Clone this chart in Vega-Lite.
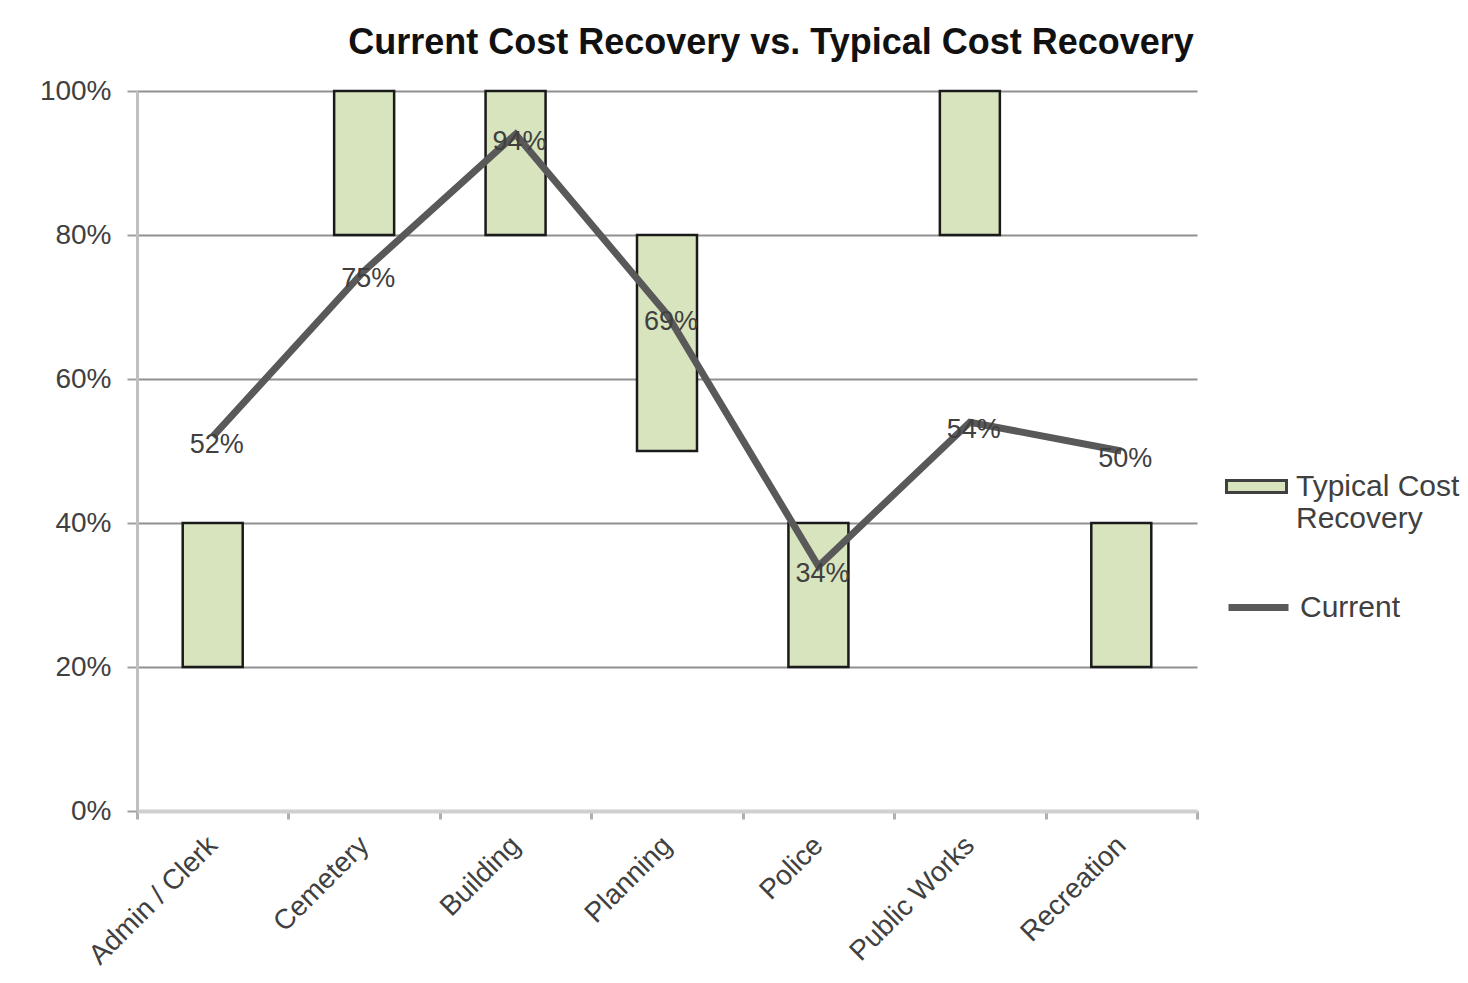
{
  "$schema": "https://vega.github.io/schema/vega-lite/v6.json",
  "autosize": "none",
  "width": 1060,
  "height": 720,
  "padding": {"left": 137, "top": 91, "right": 271, "bottom": 172},
  "background": "white",
  "title": {
    "text": "Current Cost Recovery vs. Typical Cost Recovery",
    "font": "Liberation Sans",
    "fontSize": 36,
    "fontWeight": "bold",
    "color": "#111111",
    "anchor": "middle",
    "dx": 104,
    "offset": 15
  },
  "data": {
    "values": [
      {"dept": "Admin / Clerk", "low": 0.2, "high": 0.4, "current": 0.52},
      {"dept": "Cemetery", "low": 0.8, "high": 1.0, "current": 0.75},
      {"dept": "Building", "low": 0.8, "high": 1.0, "current": 0.94},
      {"dept": "Planning", "low": 0.5, "high": 0.8, "current": 0.69},
      {"dept": "Police", "low": 0.2, "high": 0.4, "current": 0.34},
      {"dept": "Public Works", "low": 0.8, "high": 1.0, "current": 0.54},
      {"dept": "Recreation", "low": 0.2, "high": 0.4, "current": 0.5}
    ]
  },
  "encoding": {
    "x": {
      "field": "dept",
      "type": "nominal",
      "sort": null,
      "scale": {"paddingInner": 0, "paddingOuter": 0},
      "axis": {
        "title": null,
        "labelAngle": -45,
        "labelAlign": "right",
        "labelBaseline": "middle",
        "labelFont": "Liberation Sans",
        "labelFontSize": 28,
        "labelColor": "#404040",
        "labelPadding": 22,
        "tickBand": "extent",
        "tickColor": "#b0b0b0",
        "tickWidth": 3,
        "tickSize": 8,
        "domainColor": "#d0d0d0",
        "domainWidth": 4,
        "grid": false
      }
    }
  },
  "layer": [
    {
      "mark": {"type": "bar", "size": 60, "stroke": "#1a1a1a", "strokeWidth": 2.5},
      "encoding": {
        "y": {
          "field": "low",
          "type": "quantitative",
          "scale": {"domain": [0, 1], "nice": false},
          "axis": {
            "title": null,
            "format": ".0%",
            "values": [0, 0.2, 0.4, 0.6, 0.8, 1.0],
            "labelFont": "Liberation Sans",
            "labelFontSize": 28,
            "labelColor": "#404040",
            "labelPadding": 16,
            "tickSize": 10,
            "tickColor": "#a0a0a0",
            "tickWidth": 2,
            "domainColor": "#c0c0c0",
            "domainWidth": 3,
            "grid": true,
            "gridColor": "#909090",
            "gridWidth": 2
          }
        },
        "y2": {"field": "high"},
        "fill": {
          "datum": "Typical Cost Recovery",
          "type": "nominal",
          "scale": {"range": ["#d7e4bd"]},
          "legend": {
            "orient": "none",
            "legendX": 1088,
            "legendY": 364,
            "title": null,
            "symbolType": "M-1,-0.2H1V0.2H-1Z",
            "symbolSize": 3600,
            "symbolStrokeColor": "#404040",
            "symbolStrokeWidth": 3,
            "labelFont": "Liberation Sans",
            "labelFontSize": 30,
            "labelColor": "#404040",
            "labelOffset": 8,
            "labelLimit": 300,
            "labelExpr": "datum.label == 'Typical Cost Recovery' ? ['Typical Cost', 'Recovery'] : datum.label"
          }
        }
      }
    },
    {
      "mark": {"type": "line", "strokeWidth": 7},
      "encoding": {
        "y": {"field": "current", "type": "quantitative"},
        "stroke": {
          "datum": "Current",
          "type": "nominal",
          "scale": {"range": ["#595959"]},
          "legend": {
            "orient": "none",
            "legendX": 1088,
            "legendY": 483,
            "title": null,
            "symbolType": "stroke",
            "symbolSize": 3600,
            "symbolStrokeWidth": 7,
            "labelFont": "Liberation Sans",
            "labelFontSize": 30,
            "labelColor": "#404040",
            "labelOffset": 8
          }
        }
      }
    },
    {
      "mark": {"type": "text", "font": "Liberation Sans", "fontSize": 27, "color": "#404040", "dy": 8, "dx": 4},
      "encoding": {
        "y": {"field": "current", "type": "quantitative"},
        "text": {"field": "current", "type": "quantitative", "format": ".0%"}
      }
    }
  ],
  "config": {
    "view": {"stroke": null},
    "legend": {"padding": 0}
  }
}
